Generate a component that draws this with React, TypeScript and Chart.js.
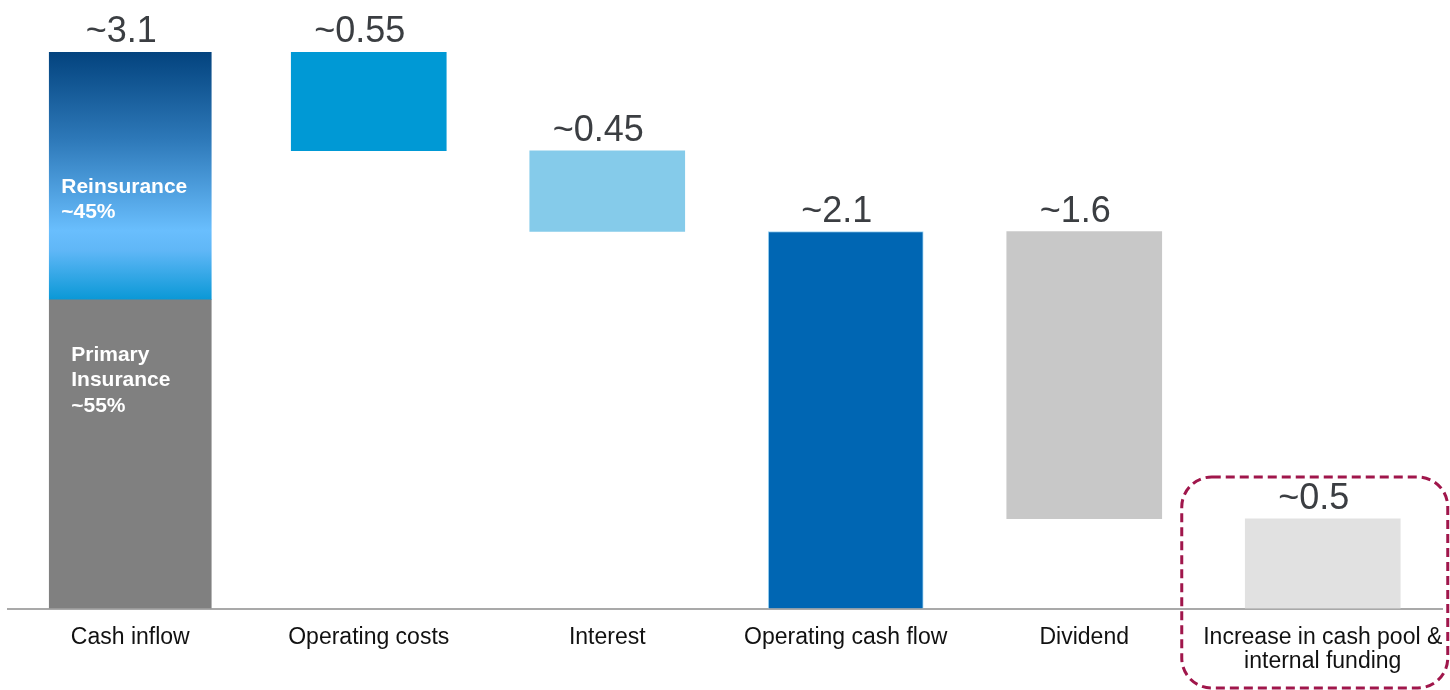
import React, { useEffect, useRef } from 'react';
import { Chart, registerables } from 'chart.js';

Chart.register(...registerables);

// ---- data ----
const categories: (string | string[])[] = [
  'Cash inflow',
  'Operating costs',
  'Interest',
  'Operating cash flow',
  'Dividend',
  ['Increase in cash pool &', 'internal funding'],
];
const steps = [3.1, -0.55, -0.45, 2.1, -1.6, 0.5];
const isTotal = [true, false, false, true, false, true];
const valueLabels = ['~3.1', '~0.55', '~0.45', '~2.1', '~1.6', '~0.5'];
const inflowParts = [1.72, 1.38]; // primary insurance, reinsurance
const inflowLabels = [['Primary', 'Insurance', '~55%'], ['Reinsurance', '~45%']];
const barColors = ['#808080', '#0099d5', '#85cbea', '#0066b3', '#c8c8c8', '#e1e1e1'];

const FONT = '"Liberation Sans", Arial, Helvetica, sans-serif';

function buildFloating(): ([number, number] | null)[] {
  const out: ([number, number] | null)[] = [];
  let run = 0;
  steps.forEach((v, i) => {
    if (isTotal[i]) {
      out.push([0, v]);
      run = v;
    } else {
      const next = run + v;
      out.push([Math.min(run, next), Math.max(run, next)]);
      run = next;
    }
  });
  return out;
}

export default function App() {
  const ref = useRef<HTMLCanvasElement | null>(null);

  useEffect(() => {
    if (!ref.current) return;
    const floating = buildFloating();
    const tops = floating.map((f) => (f ? f[1] : 0));

    const primaryData = categories.map((_, i) => (i === 0 ? ([0, inflowParts[0]] as [number, number]) : null));
    const reinsData = categories.map((_, i) =>
      i === 0 ? ([inflowParts[0], inflowParts[0] + inflowParts[1]] as [number, number]) : null
    );
    const flowData = floating.map((f, i) => (i === 0 ? null : f));

    const overlay = {
      id: 'overlay',
      beforeDatasetsDraw(chart: any) {
        const { ctx, scales } = chart;
        const y0 = scales.y.getPixelForValue(0);
        ctx.save();
        ctx.strokeStyle = '#8c8c8c';
        ctx.lineWidth = 1.5;
        ctx.beginPath();
        ctx.moveTo(7, y0 + 0.5);
        ctx.lineTo(chart.chartArea.right + 1, y0 + 0.5);
        ctx.stroke();
        ctx.restore();
      },
      afterDraw(chart: any) {
        const { ctx, scales } = chart;
        const x = scales.x;
        const y = scales.y;
        const y0 = y.getPixelForValue(0);
        ctx.save();
        // category labels (x axis)
        ctx.font = `23px ${FONT}`;
        ctx.fillStyle = '#111111';
        ctx.textAlign = 'center';
        ctx.textBaseline = 'alphabetic';
        categories.forEach((c, i) => {
          const lines = Array.isArray(c) ? c : [c];
          lines.forEach((t, k) => ctx.fillText(t, x.getPixelForValue(i), y0 + 35.5 + k * 24));
        });
        // value labels
        ctx.font = `36px ${FONT}`;
        ctx.fillStyle = '#3b3e42';
        valueLabels.forEach((lab, i) => {
          ctx.fillText(lab, x.getPixelForValue(i) - 9, y.getPixelForValue(tops[i]) - 10);
        });
        // inner labels of cash inflow bar
        const left = x.getPixelForValue(0) - 81;
        ctx.font = `bold 21px ${FONT}`;
        ctx.fillStyle = '#ffffff';
        ctx.textAlign = 'left';
        const reTop = y.getPixelForValue(inflowParts[0] + inflowParts[1]);
        inflowLabels[1].forEach((t, k) => ctx.fillText(t, left + 12, reTop + 141 + k * 25));
        const prTop = y.getPixelForValue(inflowParts[0]);
        inflowLabels[0].forEach((t, k) => ctx.fillText(t, left + 22, prTop + 61 + k * 25.5));
        // dashed highlight box
        const cx = x.getPixelForValue(5);
        const bx = cx - 141;
        const bw = 266;
        const by = 477;
        const bh = 211;
        const r = 30;
        ctx.strokeStyle = '#a0164b';
        ctx.lineWidth = 3;
        ctx.setLineDash([9, 5]);
        ctx.beginPath();
        ctx.moveTo(bx + r, by);
        ctx.lineTo(bx + bw - r, by);
        ctx.arcTo(bx + bw, by, bx + bw, by + r, r);
        ctx.lineTo(bx + bw, by + bh - r);
        ctx.arcTo(bx + bw, by + bh, bx + bw - r, by + bh, r);
        ctx.lineTo(bx + r, by + bh);
        ctx.arcTo(bx, by + bh, bx, by + bh - r, r);
        ctx.lineTo(bx, by + r);
        ctx.arcTo(bx, by, bx + r, by, r);
        ctx.closePath();
        ctx.stroke();
        ctx.restore();
      },
    };

    const chart = new Chart(ref.current, {
      type: 'bar',
      data: {
        labels: categories as any,
        datasets: [
          {
            label: 'Primary Insurance',
            data: primaryData as any,
            backgroundColor: barColors[0],
            barThickness: 162,
            grouped: false,
          } as any,
          {
            label: 'Reinsurance',
            data: reinsData as any,
            backgroundColor: (c: any) => {
              const ch = c.chart;
              const ys = ch.scales?.y;
              if (!ys) return '#4a9ad8';
              const t = ys.getPixelForValue(inflowParts[0] + inflowParts[1]);
              const b = ys.getPixelForValue(inflowParts[0]);
              if (!isFinite(t) || !isFinite(b) || t === b) return '#4a9ad8';
              const g = ch.ctx.createLinearGradient(0, t, 0, b);
              g.addColorStop(0, '#03437e');
              g.addColorStop(0.35, '#2d78b8');
              g.addColorStop(0.72, '#69befd');
              g.addColorStop(0.8, '#60b7f7');
              g.addColorStop(1, '#0a98d6');
              return g;
            },
            barThickness: 162,
            grouped: false,
          } as any,
          {
            label: 'Flows',
            data: flowData as any,
            backgroundColor: barColors,
            borderColor: barColors.map((c, i) => (i === 3 ? '#9fd4f2' : c)),
            borderWidth: barColors.map((_, i) => (i === 3 ? 1 : 0)),
            barThickness: 155,
            grouped: false,
          } as any,
        ],
      },
      options: {
        animation: false,
        responsive: false,
        maintainAspectRatio: false,
        layout: { padding: { top: 52, bottom: 81.5, left: 11, right: 8 } },
        plugins: {
          legend: { display: false },
          tooltip: { enabled: false },
          title: { display: false },
        },
        scales: {
          x: {
            display: false,
          },
          y: {
            display: false,
            min: 0,
            max: 3.1,
          },
        },
      },
      plugins: [overlay],
    });
    return () => chart.destroy();
  }, []);

  return (
    <div style={{ position: 'absolute', left: 0, top: 0, width: 1450, height: 690, background: '#fff' }}>
      <canvas ref={ref} width={1450} height={690} style={{ display: 'block' }} />
    </div>
  );
}
